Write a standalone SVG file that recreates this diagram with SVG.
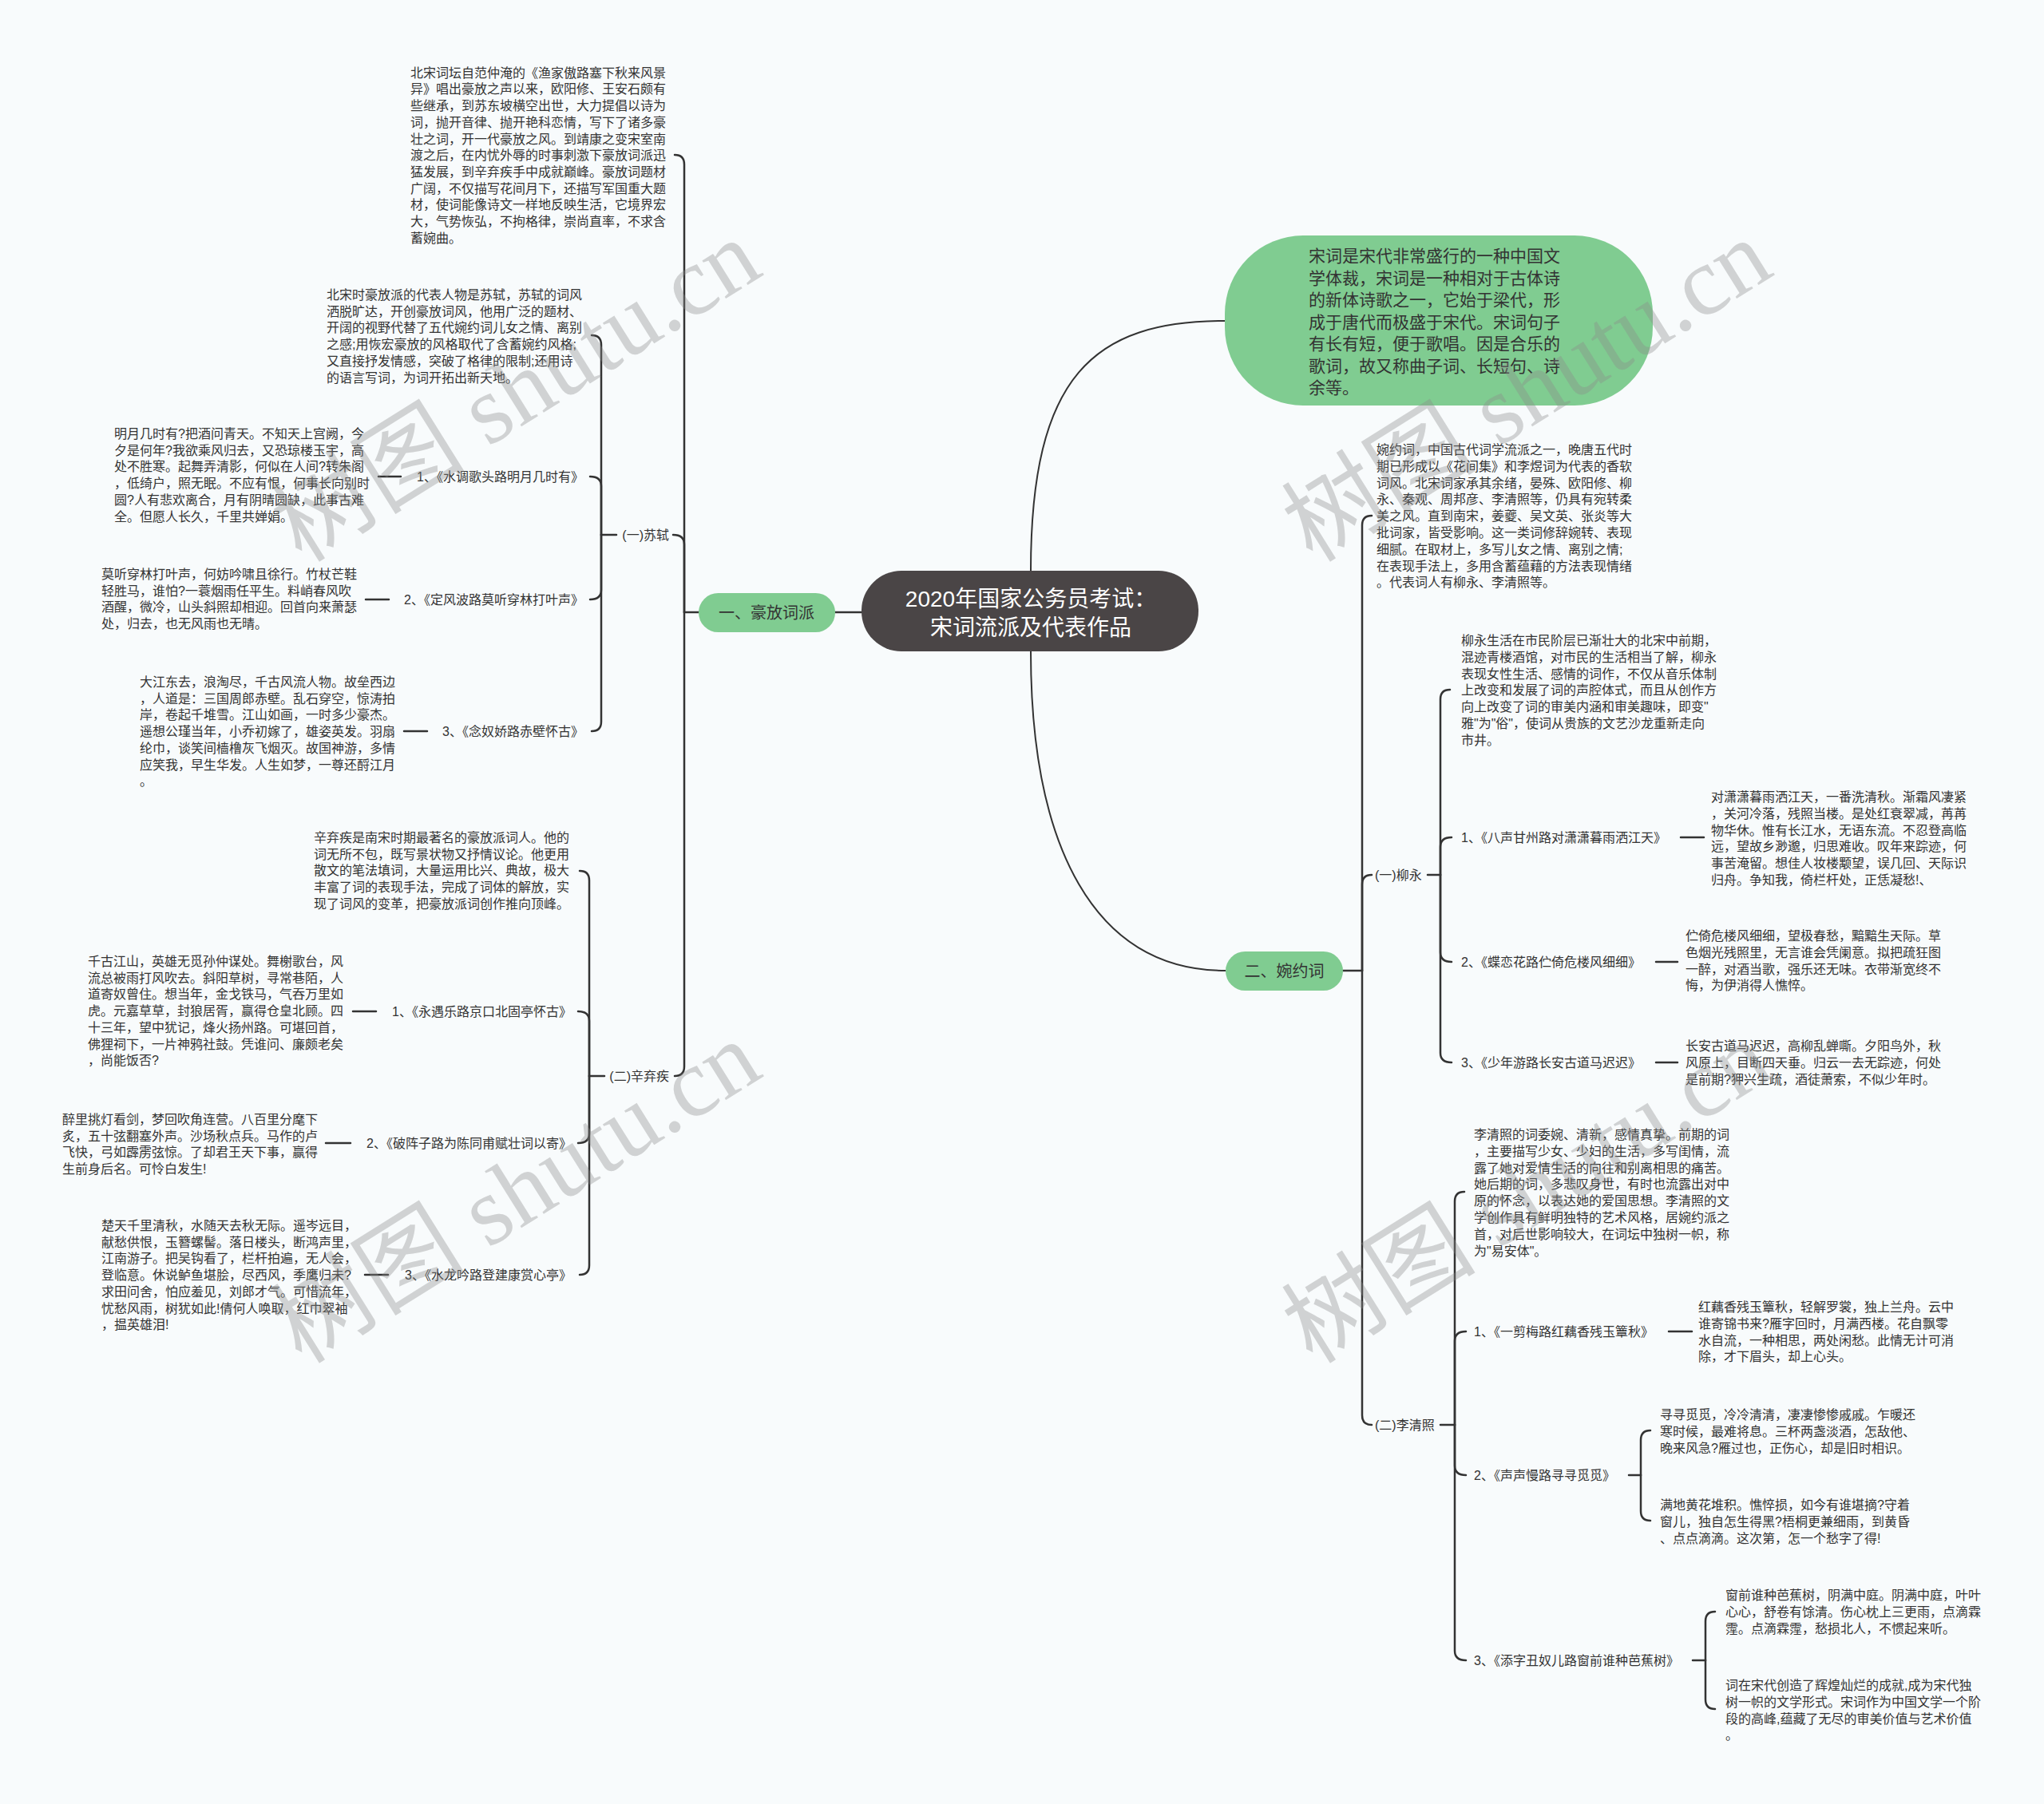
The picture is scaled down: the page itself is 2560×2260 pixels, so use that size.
<svg xmlns="http://www.w3.org/2000/svg" width="2560" height="2260" viewBox="0 0 2560 2260">
<style>
text{font-family:"Liberation Sans","Noto Sans CJK SC",sans-serif;fill:#333;}
.p{font-size:16px;}
.lb{font-size:16px;}
.end{text-anchor:end;}
.n1{font-size:20px;text-anchor:middle;}
.ct{font-size:28px;text-anchor:middle;fill:#fff;}
.bt{font-size:21px;}
.wm{font-family:"Liberation Serif","Noto Sans CJK SC",serif;font-size:122px;fill:#8a8a8a;fill-opacity:0.36;}
.c{fill:none;stroke:#333;stroke-width:2.5;stroke-linecap:round;}
.cv{fill:none;stroke:#333;stroke-width:2;}
.g{fill:#80cc91;}
</style>
<rect x="0" y="0" width="2560" height="2260" fill="#f8fbfc"/>

<g id="connectors">
<path class="cv" d="M1291,715 C1291,470 1370,402 1534,402"/>
<path class="cv" d="M1291,816 C1291,1060 1370,1216 1535,1216"/>
<path class="c" d="M1046,767 L1079,767"/>
<path class="c" d="M857,767 L875,767"/>
<path class="c" d="M845,194 Q857,194 857,206 L857,767"/>
<path class="c" d="M843,670 Q857,670 857,682 L857,767"/>
<path class="c" d="M845,1348 Q857,1348 857,1336 L857,767"/>
<path class="c" d="M753,670 L772,670"/>
<path class="c" d="M741,420 Q753,420 753,432 L753,670"/>
<path class="c" d="M739,597 Q753,597 753,609 L753,670"/>
<path class="c" d="M739,751 Q753,751 753,739 L753,670"/>
<path class="c" d="M741,916 Q753,916 753,904 L753,670"/>
<path class="c" d="M738,1348 L757,1348"/>
<path class="c" d="M726,1091 Q738,1091 738,1103 L738,1348"/>
<path class="c" d="M724,1267 Q738,1267 738,1279 L738,1348"/>
<path class="c" d="M724,1432 Q738,1432 738,1420 L738,1348"/>
<path class="c" d="M726,1597 Q738,1597 738,1585 L738,1348"/>
<path class="c" d="M474,597 L502,597"/>
<path class="c" d="M458,751 L487,751"/>
<path class="c" d="M506,916 L535,916"/>
<path class="c" d="M442,1267 L471,1267"/>
<path class="c" d="M408,1432 L439,1432"/>
<path class="c" d="M457,1597 L486,1597"/>
<path class="c" d="M1682,1216 L1706,1216"/>
<path class="c" d="M1718,646 Q1706,646 1706,658 L1706,1216"/>
<path class="c" d="M1718,1096 Q1706,1096 1706,1108 L1706,1216"/>
<path class="c" d="M1718,1785 Q1706,1785 1706,1773 L1706,1216"/>
<path class="c" d="M1788,1096 L1804,1096"/>
<path class="c" d="M1816,864 Q1804,864 1804,876 L1804,1096"/>
<path class="c" d="M1818,1049 Q1804,1049 1804,1061 L1804,1096"/>
<path class="c" d="M1818,1205 Q1804,1205 1804,1193 L1804,1096"/>
<path class="c" d="M1818,1331 Q1804,1331 1804,1319 L1804,1096"/>
<path class="c" d="M2105,1049 L2134,1049"/>
<path class="c" d="M2074,1205 L2101,1205"/>
<path class="c" d="M2074,1331 L2101,1331"/>
<path class="c" d="M1804,1785 L1822,1785"/>
<path class="c" d="M1834,1493 Q1822,1493 1822,1505 L1822,1785"/>
<path class="c" d="M1836,1668 Q1822,1668 1822,1680 L1822,1785"/>
<path class="c" d="M1836,1848 Q1822,1848 1822,1836 L1822,1785"/>
<path class="c" d="M1836,2080 Q1822,2080 1822,2068 L1822,1785"/>
<path class="c" d="M2090,1668 L2119,1668"/>
<path class="c" d="M2040,1848 L2055,1848"/>
<path class="c" d="M2067,1792 Q2055,1792 2055,1804 L2055,1848"/>
<path class="c" d="M2067,1905 Q2055,1905 2055,1893 L2055,1848"/>
<path class="c" d="M2120,2080 L2136,2080"/>
<path class="c" d="M2148,2019 Q2136,2019 2136,2031 L2136,2080"/>
<path class="c" d="M2148,2141 Q2136,2141 2136,2129 L2136,2080"/>
</g>

<g id="center">
<rect x="1079" y="715" width="422" height="101" rx="50" fill="#4a4546"/>
<text class="ct" x="1291" y="760">2020年国家公务员考试：</text>
<text class="ct" x="1291" y="796">宋词流派及代表作品</text>
</g>

<g id="intro-bubble">
<rect class="g" x="1534" y="295" width="536" height="213" rx="98"/>
<text class="bt" x="1639" y="328"><tspan x="1639" dy="0">宋词是宋代非常盛行的一种中国文</tspan><tspan x="1639" dy="27.5">学体裁，宋词是一种相对于古体诗</tspan><tspan x="1639" dy="27.5">的新体诗歌之一，它始于梁代，形</tspan><tspan x="1639" dy="27.5">成于唐代而极盛于宋代。宋词句子</tspan><tspan x="1639" dy="27.5">有长有短，便于歌唱。因是合乐的</tspan><tspan x="1639" dy="27.5">歌词，故又称曲子词、长短句、诗</tspan><tspan x="1639" dy="27.5">余等。</tspan></text>
</g>

<g id="haofang">
<rect class="g" x="875" y="743" width="171" height="49" rx="24.5"/>
<text class="n1" x="960" y="774.5">一、豪放词派</text>
</g>

<g id="haofang-intro">
<text class="p" x="514" y="96.7"><tspan x="514" dy="0">北宋词坛自范仲淹的《渔家傲路塞下秋来风景</tspan><tspan x="514" dy="20.7">异》唱出豪放之声以来，欧阳修、王安石颇有</tspan><tspan x="514" dy="20.7">些继承，到苏东坡横空出世，大力提倡以诗为</tspan><tspan x="514" dy="20.7">词，抛开音律、抛开艳科恋情，写下了诸多豪</tspan><tspan x="514" dy="20.7">壮之词，开一代豪放之风。到靖康之变宋室南</tspan><tspan x="514" dy="20.7">渡之后，在内忧外辱的时事刺激下豪放词派迅</tspan><tspan x="514" dy="20.7">猛发展，到辛弃疾手中成就巅峰。豪放词题材</tspan><tspan x="514" dy="20.7">广阔，不仅描写花间月下，还描写军国重大题</tspan><tspan x="514" dy="20.7">材，使词能像诗文一样地反映生活，它境界宏</tspan><tspan x="514" dy="20.7">大，气势恢弘，不拘格律，崇尚直率，不求含</tspan><tspan x="514" dy="20.7">蓄婉曲。</tspan></text>
</g>

<g id="sushi">
<text class="lb end" x="838" y="676">(一)苏轼</text>
</g>
<g id="sushi-intro">
<text class="p" x="409" y="375"><tspan x="409" dy="0">北宋时豪放派的代表人物是苏轼，苏轼的词风</tspan><tspan x="409" dy="20.7">洒脱旷达，开创豪放词风，他用广泛的题材、</tspan><tspan x="409" dy="20.7">开阔的视野代替了五代婉约词儿女之情、离别</tspan><tspan x="409" dy="20.7">之感;用恢宏豪放的风格取代了含蓄婉约风格;</tspan><tspan x="409" dy="20.7">又直接抒发情感，突破了格律的限制;还用诗</tspan><tspan x="409" dy="20.7">的语言写词，为词开拓出新天地。</tspan></text>
</g>
<g id="shuidiao">
<text class="lb end" x="731" y="603">1、《水调歌头路明月几时有》</text>
</g>
<g id="shuidiao-text">
<text class="p" x="143" y="549"><tspan x="143" dy="0">明月几时有?把酒问青天。不知天上宫阙，今</tspan><tspan x="143" dy="20.7">夕是何年?我欲乘风归去，又恐琼楼玉宇，高</tspan><tspan x="143" dy="20.7">处不胜寒。起舞弄清影，何似在人间?转朱阁</tspan><tspan x="143" dy="20.7">，低绮户，照无眠。不应有恨，何事长向别时</tspan><tspan x="143" dy="20.7">圆?人有悲欢离合，月有阴晴圆缺，此事古难</tspan><tspan x="143" dy="20.7">全。但愿人长久，千里共婵娟。</tspan></text>
</g>
<g id="dingfengbo">
<text class="lb end" x="731" y="757">2、《定风波路莫听穿林打叶声》</text>
</g>
<g id="dingfengbo-text">
<text class="p" x="127" y="725"><tspan x="127" dy="0">莫听穿林打叶声，何妨吟啸且徐行。竹杖芒鞋</tspan><tspan x="127" dy="20.7">轻胜马，谁怕?一蓑烟雨任平生。料峭春风吹</tspan><tspan x="127" dy="20.7">酒醒，微冷，山头斜照却相迎。回首向来萧瑟</tspan><tspan x="127" dy="20.7">处，归去，也无风雨也无晴。</tspan></text>
</g>
<g id="niannujiao">
<text class="lb end" x="731" y="922">3、《念奴娇路赤壁怀古》</text>
</g>
<g id="niannujiao-text">
<text class="p" x="175" y="860"><tspan x="175" dy="0">大江东去，浪淘尽，千古风流人物。故垒西边</tspan><tspan x="175" dy="20.7">，人道是：三国周郎赤壁。乱石穿空，惊涛拍</tspan><tspan x="175" dy="20.7">岸，卷起千堆雪。江山如画，一时多少豪杰。</tspan><tspan x="175" dy="20.7">遥想公瑾当年，小乔初嫁了，雄姿英发。羽扇</tspan><tspan x="175" dy="20.7">纶巾，谈笑间樯橹灰飞烟灭。故国神游，多情</tspan><tspan x="175" dy="20.7">应笑我，早生华发。人生如梦，一尊还酹江月</tspan><tspan x="175" dy="20.7">。</tspan></text>
</g>

<g id="xinqiji">
<text class="lb end" x="838" y="1354">(二)辛弃疾</text>
</g>
<g id="xinqiji-intro">
<text class="p" x="393" y="1055"><tspan x="393" dy="0">辛弃疾是南宋时期最著名的豪放派词人。他的</tspan><tspan x="393" dy="20.7">词无所不包，既写景状物又抒情议论。他更用</tspan><tspan x="393" dy="20.7">散文的笔法填词，大量运用比兴、典故，极大</tspan><tspan x="393" dy="20.7">丰富了词的表现手法，完成了词体的解放，实</tspan><tspan x="393" dy="20.7">现了词风的变革，把豪放派词创作推向顶峰。</tspan></text>
</g>
<g id="yongyule">
<text class="lb end" x="716" y="1273">1、《永遇乐路京口北固亭怀古》</text>
</g>
<g id="yongyule-text">
<text class="p" x="110" y="1210"><tspan x="110" dy="0">千古江山，英雄无觅孙仲谋处。舞榭歌台，风</tspan><tspan x="110" dy="20.7">流总被雨打风吹去。斜阳草树，寻常巷陌，人</tspan><tspan x="110" dy="20.7">道寄奴曾住。想当年，金戈铁马，气吞万里如</tspan><tspan x="110" dy="20.7">虎。元嘉草草，封狼居胥，赢得仓皇北顾。四</tspan><tspan x="110" dy="20.7">十三年，望中犹记，烽火扬州路。可堪回首，</tspan><tspan x="110" dy="20.7">佛狸祠下，一片神鸦社鼓。凭谁问、廉颇老矣</tspan><tspan x="110" dy="20.7">，尚能饭否?</tspan></text>
</g>
<g id="pozhenzi">
<text class="lb end" x="716" y="1438">2、《破阵子路为陈同甫赋壮词以寄》</text>
</g>
<g id="pozhenzi-text">
<text class="p" x="78" y="1408"><tspan x="78" dy="0">醉里挑灯看剑，梦回吹角连营。八百里分麾下</tspan><tspan x="78" dy="20.7">炙，五十弦翻塞外声。沙场秋点兵。马作的卢</tspan><tspan x="78" dy="20.7">飞快，弓如霹雳弦惊。了却君王天下事，赢得</tspan><tspan x="78" dy="20.7">生前身后名。可怜白发生!</tspan></text>
</g>
<g id="shuilongyin">
<text class="lb end" x="716" y="1603">3、《水龙吟路登建康赏心亭》</text>
</g>
<g id="shuilongyin-text">
<text class="p" x="127" y="1541"><tspan x="127" dy="0">楚天千里清秋，水随天去秋无际。遥岑远目，</tspan><tspan x="127" dy="20.7">献愁供恨，玉簪螺髻。落日楼头，断鸿声里，</tspan><tspan x="127" dy="20.7">江南游子。把吴钩看了，栏杆拍遍，无人会，</tspan><tspan x="127" dy="20.7">登临意。休说鲈鱼堪脍，尽西风，季鹰归未?</tspan><tspan x="127" dy="20.7">求田问舍，怕应羞见，刘郎才气。可惜流年，</tspan><tspan x="127" dy="20.7">忧愁风雨，树犹如此!倩何人唤取，红巾翠袖</tspan><tspan x="127" dy="20.7">，揾英雄泪!</tspan></text>
</g>

<g id="wanyue">
<rect class="g" x="1535" y="1192" width="147" height="49" rx="24.5"/>
<text class="n1" x="1608.5" y="1223.5">二、婉约词</text>
</g>
<g id="wanyue-intro">
<text class="p" x="1724" y="569"><tspan x="1724" dy="0">婉约词，中国古代词学流派之一，晚唐五代时</tspan><tspan x="1724" dy="20.8">期已形成以《花间集》和李煜词为代表的香软</tspan><tspan x="1724" dy="20.8">词风。北宋词家承其余绪，晏殊、欧阳修、柳</tspan><tspan x="1724" dy="20.8">永、秦观、周邦彦、李清照等，仍具有宛转柔</tspan><tspan x="1724" dy="20.8">美之风。直到南宋，姜夔、吴文英、张炎等大</tspan><tspan x="1724" dy="20.8">批词家，皆受影响。这一类词修辞婉转、表现</tspan><tspan x="1724" dy="20.8">细腻。在取材上，多写儿女之情、离别之情;</tspan><tspan x="1724" dy="20.8">在表现手法上，多用含蓄蕴藉的方法表现情绪</tspan><tspan x="1724" dy="20.8">。代表词人有柳永、李清照等。</tspan></text>
</g>

<g id="liuyong">
<text class="lb" x="1722" y="1102">(一)柳永</text>
</g>
<g id="liuyong-intro">
<text class="p" x="1830" y="808"><tspan x="1830" dy="0">柳永生活在市民阶层已渐壮大的北宋中前期，</tspan><tspan x="1830" dy="20.8">混迹青楼酒馆，对市民的生活相当了解，柳永</tspan><tspan x="1830" dy="20.8">表现女性生活、感情的词作，不仅从音乐体制</tspan><tspan x="1830" dy="20.8">上改变和发展了词的声腔体式，而且从创作方</tspan><tspan x="1830" dy="20.8">向上改变了词的审美内涵和审美趣味，即变"</tspan><tspan x="1830" dy="20.8">雅"为"俗"，使词从贵族的文艺沙龙重新走向</tspan><tspan x="1830" dy="20.8">市井。</tspan></text>
</g>
<g id="bashengganzhou">
<text class="lb" x="1830" y="1055">1、《八声甘州路对潇潇暮雨洒江天》</text>
</g>
<g id="bashengganzhou-text">
<text class="p" x="2143" y="1004"><tspan x="2143" dy="0">对潇潇暮雨洒江天，一番洗清秋。渐霜风凄紧</tspan><tspan x="2143" dy="20.8">，关河冷落，残照当楼。是处红衰翠减，苒苒</tspan><tspan x="2143" dy="20.8">物华休。惟有长江水，无语东流。不忍登高临</tspan><tspan x="2143" dy="20.8">远，望故乡渺邈，归思难收。叹年来踪迹，何</tspan><tspan x="2143" dy="20.8">事苦淹留。想佳人妆楼颙望，误几回、天际识</tspan><tspan x="2143" dy="20.8">归舟。争知我，倚栏杆处，正恁凝愁!、</tspan></text>
</g>
<g id="dielianhua">
<text class="lb" x="1830" y="1211">2、《蝶恋花路伫倚危楼风细细》</text>
</g>
<g id="dielianhua-text">
<text class="p" x="2111" y="1178"><tspan x="2111" dy="0">伫倚危楼风细细，望极春愁，黯黯生天际。草</tspan><tspan x="2111" dy="20.8">色烟光残照里，无言谁会凭阑意。拟把疏狂图</tspan><tspan x="2111" dy="20.8">一醉，对酒当歌，强乐还无味。衣带渐宽终不</tspan><tspan x="2111" dy="20.8">悔，为伊消得人憔悴。</tspan></text>
</g>
<g id="shaonianyou">
<text class="lb" x="1830" y="1337">3、《少年游路长安古道马迟迟》</text>
</g>
<g id="shaonianyou-text">
<text class="p" x="2111" y="1316"><tspan x="2111" dy="0">长安古道马迟迟，高柳乱蝉嘶。夕阳鸟外，秋</tspan><tspan x="2111" dy="20.8">风原上，目断四天垂。归云一去无踪迹，何处</tspan><tspan x="2111" dy="20.8">是前期?狎兴生疏，酒徒萧索，不似少年时。</tspan></text>
</g>

<g id="liqingzhao">
<text class="lb" x="1722" y="1791">(二)李清照</text>
</g>
<g id="liqingzhao-intro">
<text class="p" x="1846" y="1427"><tspan x="1846" dy="0">李清照的词委婉、清新，感情真挚。前期的词</tspan><tspan x="1846" dy="20.8">，主要描写少女、少妇的生活，多写闺情，流</tspan><tspan x="1846" dy="20.8">露了她对爱情生活的向往和别离相思的痛苦。</tspan><tspan x="1846" dy="20.8">她后期的词，多悲叹身世，有时也流露出对中</tspan><tspan x="1846" dy="20.8">原的怀念，以表达她的爱国思想。李清照的文</tspan><tspan x="1846" dy="20.8">学创作具有鲜明独特的艺术风格，居婉约派之</tspan><tspan x="1846" dy="20.8">首，对后世影响较大，在词坛中独树一帜，称</tspan><tspan x="1846" dy="20.8">为"易安体"。</tspan></text>
</g>
<g id="yijianmei">
<text class="lb" x="1846" y="1674">1、《一剪梅路红藕香残玉簟秋》</text>
</g>
<g id="yijianmei-text">
<text class="p" x="2127" y="1643"><tspan x="2127" dy="0">红藕香残玉簟秋，轻解罗裳，独上兰舟。云中</tspan><tspan x="2127" dy="20.8">谁寄锦书来?雁字回时，月满西楼。花自飘零</tspan><tspan x="2127" dy="20.8">水自流，一种相思，两处闲愁。此情无计可消</tspan><tspan x="2127" dy="20.8">除，才下眉头，却上心头。</tspan></text>
</g>
<g id="shengshengman">
<text class="lb" x="1846" y="1854">2、《声声慢路寻寻觅觅》</text>
</g>
<g id="shengshengman-text1">
<text class="p" x="2079" y="1778"><tspan x="2079" dy="0">寻寻觅觅，冷冷清清，凄凄惨惨戚戚。乍暖还</tspan><tspan x="2079" dy="20.8">寒时候，最难将息。三杯两盏淡酒，怎敌他、</tspan><tspan x="2079" dy="20.8">晚来风急?雁过也，正伤心，却是旧时相识。</tspan></text>
</g>
<g id="shengshengman-text2">
<text class="p" x="2079" y="1891"><tspan x="2079" dy="0">满地黄花堆积。憔悴损，如今有谁堪摘?守着</tspan><tspan x="2079" dy="20.8">窗儿，独自怎生得黑?梧桐更兼细雨，到黄昏</tspan><tspan x="2079" dy="20.8">、点点滴滴。这次第，怎一个愁字了得!</tspan></text>
</g>
<g id="tianzi">
<text class="lb" x="1846" y="2086">3、《添字丑奴儿路窗前谁种芭蕉树》</text>
</g>
<g id="tianzi-text1">
<text class="p" x="2161" y="2004"><tspan x="2161" dy="0">窗前谁种芭蕉树，阴满中庭。阴满中庭，叶叶</tspan><tspan x="2161" dy="20.8">心心，舒卷有馀清。伤心枕上三更雨，点滴霖</tspan><tspan x="2161" dy="20.8">霪。点滴霖霪，愁损北人，不惯起来听。</tspan></text>
</g>
<g id="tianzi-text2">
<text class="p" x="2161" y="2117"><tspan x="2161" dy="0">词在宋代创造了辉煌灿烂的成就,成为宋代独</tspan><tspan x="2161" dy="20.8">树一帜的文学形式。宋词作为中国文学一个阶</tspan><tspan x="2161" dy="20.8">段的高峰,蕴藏了无尽的审美价值与艺术价值</tspan><tspan x="2161" dy="20.8">。</tspan></text>
</g>

<g id="watermarks">
<text class="wm" transform="translate(378,706) rotate(-32)">树图 shutu.cn</text>
<text class="wm" transform="translate(378,1710) rotate(-32)">树图 shutu.cn</text>
<text class="wm" transform="translate(1644,706) rotate(-32)">树图 shutu.cn</text>
<text class="wm" transform="translate(1644,1710) rotate(-32)">树图 shutu.cn</text>
</g>
</svg>
